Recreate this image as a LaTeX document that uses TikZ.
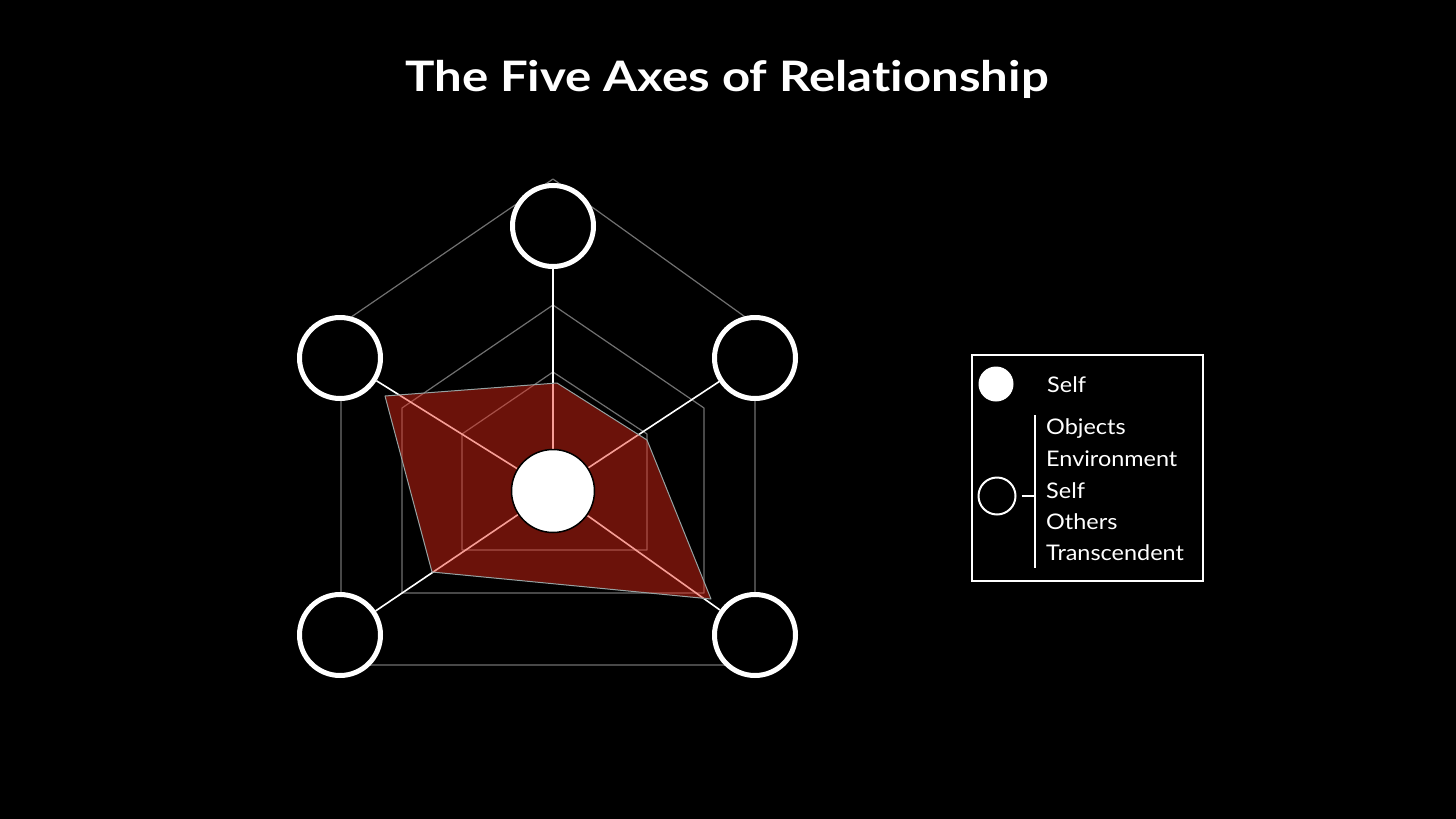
\documentclass[tikz,border=0pt]{standalone}
\usepackage{fontspec}
\setmainfont{Lato}[Ligatures=NoCommon]
\newfontfamily\titlefont{Lato}[FakeStretch=1.17, Ligatures=NoCommon]
\newfontfamily\lgdfont{Lato}[FakeStretch=1.09, Ligatures=NoCommon]
\usetikzlibrary{backgrounds}

\definecolor{gridgray}{RGB}{112,112,112}
\definecolor{redfill}{RGB}{238,42,24}
\definecolor{edgegray}{RGB}{150,162,162}

\begin{document}
\begin{tikzpicture}[x=1pt, y=-1pt,
    ring/.style={draw=gridgray, line width=1.2pt, line join=round},
    spoke/.style={draw=white, line width=1.6pt},
    axisnode/.style={circle, draw=white, fill=black, line width=5pt, minimum size=81pt, inner sep=0pt},
    corenode/.style={circle, draw=black, fill=white, line width=1.5pt, minimum size=83pt, inner sep=0pt},
    lgd/.style={text=white, font=\lgdfont\fontsize{21.5}{26}\selectfont, anchor=base west, inner sep=0pt}]

    % 背景
    \begin{scope}[on background layer]
      \fill[black] (0,0) rectangle (1456,819);
    \end{scope}
    \useasboundingbox (0,0) rectangle (1456,819);

    % 标题
    \node[text=white, font=\titlefont\fontsize{42}{50}\selectfont\bfseries, anchor=base] (title) at (727,91) {The Five Axes of Relationship};

    % 五个轴的圆
    \node[axisnode] (top) at (553,226) {};
    \node[axisnode] (ul) at (340,358) {};
    \node[axisnode] (ur) at (755,358) {};
    \node[axisnode] (ll) at (340,635) {};
    \node[axisnode] (lr) at (755,635) {};

    % 中心
    \node[corenode] (ctr) at (553,491) {};

    \begin{scope}[on background layer]
      % 网格
      \draw[ring] (553,179) -- (755,324) -- (755,665) -- (341,665) -- (341,324) -- cycle;
      \draw[ring] (553,305) -- (704,408) -- (704,593) -- (402,593) -- (402,408) -- cycle;
      \draw[ring] (553,372) -- (647,434) -- (647,550) -- (462,550) -- (462,434) -- cycle;

      % 轴线
      \draw[spoke] (ctr) -- (top);
      \draw[spoke] (ctr) -- (ul);
      \draw[spoke] (ctr) -- (ur);
      \draw[spoke] (ctr) -- (ll);
      \draw[spoke] (ctr) -- (lr);

      % 数据区域
      \filldraw[fill=redfill, fill opacity=0.45, draw=edgegray, line width=1pt, line join=round]
        (557,383) -- (647,440) -- (711,599) -- (432,572) -- (385,396) -- cycle;
    \end{scope}

    % 图例
    \draw[white, line width=1.5pt] (972,355) rectangle (1203,581);
    \node[circle, fill=white, minimum size=35pt, inner sep=0pt] (selfdot) at (996,384) {};
    \node[lgd] (selflbl) at (1047,392) {Self};

    \node[circle, draw=white, line width=2pt, minimum size=37pt, inner sep=0pt] (axisdot) at (997,496) {};
    \coordinate (brk) at (1035,496);
    \coordinate (brktop) at (1035,415);
    \coordinate (brkbot) at (1035,568);
    \draw[white, line width=1.5pt, shorten <=5pt] (axisdot) -- (brk);
    \draw[white, line width=1.5pt] (brktop) -- (brkbot);

    \node[lgd] (objects) at (1046,434) {Objects};
    \node[lgd] (environment) at (1046,466) {Environment};
    \node[lgd] (selfaxis) at (1046,498) {Self};
    \node[lgd] (others) at (1046,529) {Others};
    \node[lgd] (transcendent) at (1046,560) {Transcendent};
  \end{tikzpicture}
\end{document}
